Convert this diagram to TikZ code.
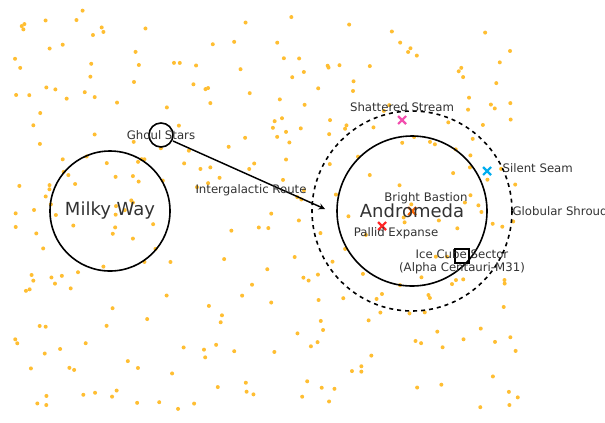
\documentclass[tikz,border=0pt]{standalone}
\usepackage{fontspec}
\setmainfont{DejaVu Sans}
\usetikzlibrary{positioning, arrows}
\definecolor{starc}{RGB}{255,190,50}
\definecolor{txt}{RGB}{50,50,50}
\tikzset{
  lbl/.style={text=txt, font=\fontsize{8.8}{10}\selectfont, inner sep=1pt},
  cross/.style={line width=1.6pt}
}
\newcommand{\xmark}[3]{\draw[cross,#3] ($(#1,#2)+(-4,-4)$) -- ($(#1,#2)+(4,4)$) ($(#1,#2)+(-4,4)$) -- ($(#1,#2)+(4,-4)$);}
\usetikzlibrary{calc}
\begin{document}
\begin{tikzpicture}[x=0.75pt,y=-0.75pt]
\useasboundingbox (0,0) rectangle (605,422);
\pgfmathsetseed{42}
\foreach \i in {1,...,300}{%les etoiles
  \pgfmathsetmacro{\sx}{12+rnd*506}
  \pgfmathsetmacro{\sy}{10+rnd*400}
  \fill[starc] (\sx,\sy) circle (2);
}

\draw[line width=1.2pt] (110,211) circle (60);
\node[text=txt, font=\fontsize{13.5}{14}\selectfont] (milky) at (110,211) {Milky Way};

\draw[line width=1.2pt] (161,135) circle (12);
\node[lbl] (ghoul) at (161,135) {Ghoul Stars};
\coordinate (routestart) at (173,141);

\draw[line width=1.2pt] (412,211) circle (75);
\draw[line width=1.2pt,dashed] (412,211) circle (100);
\coordinate (routeend) at (325,209);

\draw[line width=1.1pt,->,>=stealth] (routestart) -- (routeend);
\node[lbl] (route) at (251,190) {Intergalactic Route};

\xmark{402}{120}{magenta!70!white}
\node[lbl] (shatl) at (402,107) {Shattered Stream};
\xmark{487}{171}{cyan}
\node[lbl, anchor=west] (seaml) at (501,168) {Silent Seam};
\node[lbl, anchor=west] (glob) at (511,211) {Globular Shroud};
\xmark{412}{211}{orange!80!red}
\node[text=txt, font=\fontsize{13.5}{14}\selectfont] (andro) at (412,211) {Andromeda};
\node[lbl] (bastl) at (426,198) {Bright Bastion};
\xmark{382}{226}{red!80!pink}
\node[lbl] (palll) at (396,233) {Pallid Expanse};
\draw[line width=1.2pt] (455,249) rectangle (469,263);
\node[lbl, align=center] (ice) at (462,262) {Ice Cube Sector\\(Alpha Centauri-M31)};
\end{tikzpicture}
\end{document}
